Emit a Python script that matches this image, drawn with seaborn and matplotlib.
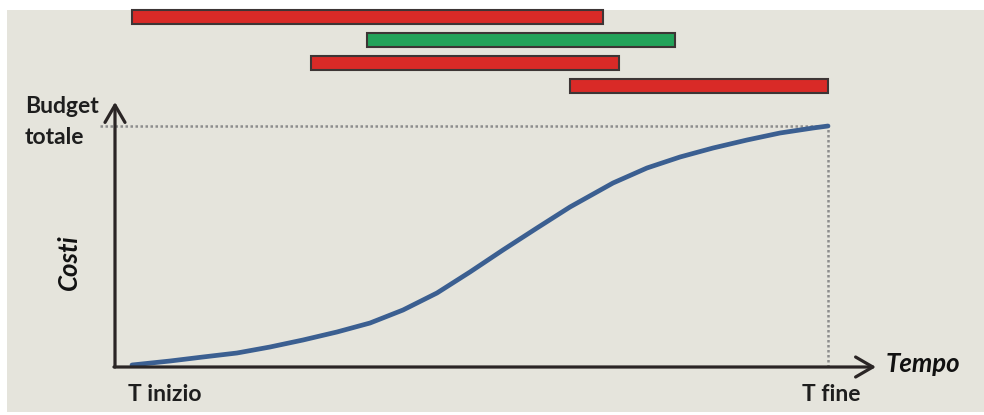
import matplotlib
matplotlib.use("Agg")
import matplotlib.pyplot as plt
import seaborn as sns
import pandas as pd
from matplotlib.patches import Rectangle

sns.set_theme(style="white")
plt.rcParams['font.family'] = ['Lato', 'DejaVu Sans']

# S-curve (percent of time, percent of total budget)
time_pct = [0, 5.46, 10.20, 15.09, 19.83, 24.57, 29.45, 34.20, 38.94, 43.82, 48.56,
            53.30, 58.19, 62.93, 69.11, 73.99, 78.74, 83.48, 88.36, 93.10, 97.84, 100]
cost_pct = [0, 1.67, 3.35, 5.02, 7.53, 10.46, 13.81, 17.57, 23.01, 30.13, 38.91,
            48.12, 57.32, 66.11, 76.15, 82.43, 87.03, 90.79, 94.14, 97.07, 99.16, 100]

# Activities (Gantt bars), in percent of time
tasks = ["A", "B", "C", "D"]
task_start = [0, 33.8, 25.7, 62.9]
task_end = [67.7, 78.0, 70.0, 100]
task_colors = ["#d92a27", "#23a35a", "#d92a27", "#d92a27"]

BG = "#e5e4dc"
W, H = 984, 415
fig = plt.figure(figsize=(W / 100, H / 100), dpi=100)
fig.patch.set_facecolor("white")
fig.patches.append(Rectangle((7 / W, 3 / H), 1 - 7 / W, 402 / H,
                             transform=fig.transFigure, facecolor=BG,
                             edgecolor="none", zorder=-10))

# pixel mapping: t=0 -> x 132, t=100 -> x 828 ; c=0 -> y 365, c=100 -> y 126
sx = 6.96
sy = 2.39
xlim = (-132 / sx, (W - 132) / sx)
ax = fig.add_axes([0, 0, 1, 1])
ax.set_xlim(*xlim)
ax.set_ylim((365 - H) / sy, 365 / sy)
ax.patch.set_alpha(0)
ax.axis("off")

df = pd.DataFrame({"Tempo": time_pct, "Costi": cost_pct})
sns.lineplot(data=df, x="Tempo", y="Costi", ax=ax, color="#3b5f91",
             lw=3.4, sort=False, zorder=4, solid_capstyle="round",
             solid_joinstyle="round")

axc = "#2a2525"
x0 = (115 - 132) / sx
y0 = (365 - 367) / sy
ax.annotate("", xy=(x0, (365 - 102) / sy), xytext=(x0, y0),
            arrowprops=dict(arrowstyle="->,head_length=0.62,head_width=0.36",
                            lw=2.3, color=axc, shrinkA=0, shrinkB=0,
                            mutation_scale=20), zorder=5)
ax.annotate("", xy=((876 - 132) / sx, y0), xytext=(x0 - 0.15, y0),
            arrowprops=dict(arrowstyle="->,head_length=0.62,head_width=0.36",
                            lw=2.3, color=axc, shrinkA=0, shrinkB=0,
                            mutation_scale=20), zorder=5)

# dotted guides
top = cost_pct[-1]
end = time_pct[-1]
ax.plot([(100 - 132) / sx, end], [top, top], ls=(0, (1, 1)), color="#8d8d8d", lw=1.8, zorder=3)
ax.plot([end, end], [y0, top], ls=(0, (1, 1)), color="#8d8d8d", lw=1.8, zorder=3)

tc = "#1e1e1e"
fig.text(25 / W, 1 - 96 / H, "Budget\ntotale", ha="left", va="top",
         fontsize=16.5, color=tc, linespacing=1.6, fontweight="bold")
fig.text(128 / W, 1 - 394 / H, "T inizio", ha="left", va="center",
         fontsize=16.5, color=tc, fontweight="bold")
fig.text(802 / W, 1 - 394 / H, "T fine", ha="left", va="center",
         fontsize=16.5, color=tc, fontweight="bold")
fig.text(886 / W, 1 - 364 / H, "Tempo", ha="left", va="center",
         fontsize=18.5, color="#111111", fontweight="bold", fontstyle="italic")
fig.text(69 / W, 1 - 262 / H, "Costi", ha="center", va="center", rotation=90,
         fontsize=18.5, color="#111111", fontweight="bold", fontstyle="italic")

# Gantt axes
axg = fig.add_axes([0, (H - 97.5) / H, 1, 92 / H])
axg.set_xlim(*xlim)
widths = [e - s for s, e in zip(task_start, task_end)]
axg.barh(tasks, widths, left=task_start, height=0.63, color=task_colors,
         edgecolor="#3d3535", lw=1.5)
axg.set_ylim(3.5, -0.5)
axg.patch.set_alpha(0)
axg.axis("off")

fig.savefig("out.png", dpi=100, facecolor=fig.get_facecolor())
